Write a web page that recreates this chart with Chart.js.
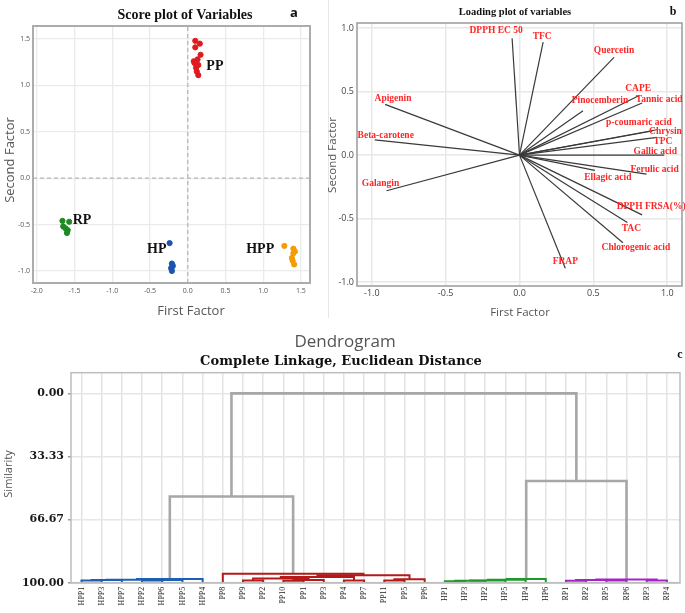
<!DOCTYPE html>
<html>
<head>
<meta charset="utf-8">
<title>PCA score / loading plots and dendrogram</title>
<script src="https://cdn.jsdelivr.net/npm/chart.js@4.4.0/dist/chart.umd.min.js"></script>
<style>
  html, body { margin: 0; padding: 0; background: #fff; }
  #page { position: relative; width: 685px; height: 613px; overflow: hidden; background: #fff; }
  canvas { position: absolute; }
  #scoreChart { left: 0; top: 0; }
  #loadChart { left: 320px; top: 0; }
  #dendroChart { left: 0; top: 322px; }
  .divider { position: absolute; left: 328px; top: 0; width: 1px; height: 318px; background: #e6e6e6; }
</style>
</head>
<body>
<div id="page">
  <div class="divider"></div>
  <canvas id="scoreChart" width="318" height="322"></canvas>
  <canvas id="loadChart" width="365" height="322"></canvas>
  <canvas id="dendroChart" width="685" height="291"></canvas>
</div>
<script>
// ---- (a) score plot ----
const ppX  = [0.10, 0.16, 0.10, 0.17, 0.09, 0.14, 0.11, 0.12, 0.14, 0.08, 0.13];
const ppY  = [1.48, 1.45, 1.41, 1.33, 1.24, 1.22, 1.19, 1.15, 1.11, 1.26, 1.28];
const rpX  = [-1.66, -1.57, -1.65, -1.62, -1.59, -1.60];
const rpY  = [-0.46, -0.47, -0.52, -0.54, -0.56, -0.59];
const hpX  = [-0.24, -0.21, -0.20, -0.22, -0.21, -0.20];
const hpY  = [-0.70, -0.92, -0.95, -0.97, -1.00, -0.94];
const hppX = [1.28, 1.40, 1.42, 1.38, 1.39, 1.41, 1.40];
const hppY = [-0.73, -0.76, -0.79, -0.86, -0.89, -0.93, -0.81];
const scoreTicksX = [-2.0, -1.5, -1.0, -0.5, 0.0, 0.5, 1.0, 1.5];
const scoreTicksY = [-1.0, -0.5, 0.0, 0.5, 1.0, 1.5];

// ---- (b) loading plot ----
const loadNames = ['DPPH EC 50', 'TFC', 'Quercetin', 'CAPE', 'Tannic acid', 'Pinocemberin',
  'p-coumaric acid', 'Chrysin', 'TPC', 'Gallic acid', 'Ferulic acid', 'Ellagic acid',
  'DPPH FRSA(%)', 'TAC', 'Chlorogenic acid', 'FRAP', 'Apigenin', 'Beta-carotene', 'Galangin'];
const loadX = [-0.05, 0.16, 0.64, 0.81, 0.83, 0.43, 0.93, 0.90, 0.93, 0.98, 0.86, 0.51,
  0.83, 0.73, 0.70, 0.31, -0.91, -0.98, -0.90];
const loadY = [0.92, 0.89, 0.77, 0.47, 0.41, 0.35, 0.20, 0.19, 0.14, 0.00, -0.15, -0.12,
  -0.47, -0.53, -0.69, -0.89, 0.40, 0.12, -0.28];
const loadTicks = [-1.0, -0.5, 0.0, 0.5, 1.0];

// ---- (c) dendrogram ----
const dendroLeaves = ['HPP1', 'HPP3', 'HPP7', 'HPP2', 'HPP6', 'HPP5', 'HPP4',
  'PP8', 'PP9', 'PP2', 'PP10', 'PP1', 'PP3', 'PP4', 'PP7', 'PP11', 'PP5', 'PP6',
  'HP1', 'HP3', 'HP2', 'HP5', 'HP4', 'HP6',
  'RP1', 'RP2', 'RP5', 'RP6', 'RP3', 'RP4'];
// [left, right, similarity]; a number refers to an earlier merge row
const dendroMerges = [
  ['HPP1', 'HPP3', 98.9], [0, 'HPP7', 98.6], ['HPP2', 'HPP6', 98.9], [2, 'HPP5', 98.6],
  [1, 3, 98.4], [4, 'HPP4', 98.0],
  ['PP9', 'PP2', 98.8], ['PP10', 'PP1', 99.0], [7, 'PP3', 98.6], [6, 8, 97.8],
  ['PP4', 'PP7', 98.9], [9, 10, 97.0], ['PP11', 'PP5', 98.9], [12, 'PP6', 98.2],
  [11, 13, 96.1], ['PP8', 14, 95.3],
  ['HP1', 'HP3', 99.2], [16, 'HP2', 99.0], [17, 'HP5', 98.8], [18, 'HP4', 98.5], [19, 'HP6', 98.1],
  ['RP1', 'RP2', 99.0], ['RP5', 'RP6', 98.9], [21, 22, 98.6], ['RP3', 'RP4', 98.8], [23, 24, 98.3],
  [5, 15, 54.5], [20, 25, 46.3], [26, 27, 0.0]
];
const simTicks = [0, 33.33, 66.67, 100];

// ---- styling ----
const SERIF = '"Liberation Serif", "Times New Roman", serif';
const SANS = '"Open Sans", "DejaVu Sans", sans-serif';
const groupColors = { HPP: '#1c5fb5', PP: '#b31b1b', HP: '#1f9a2a', RP: '#a524c6' };
const scoreTags = [
  { text: 'PP', x: 0.36, y: 1.20 }, { text: 'RP', x: -1.40, y: -0.46 },
  { text: 'HP', x: -0.41, y: -0.77 }, { text: 'HPP', x: 0.96, y: -0.77 }
];
const loadLabelOffsets = [[-16, -8], [-1, -6], [0, -7], [-1, -7], [17, -3], [17, -10],
  [-18, -7], [13, 1], [6, 4], [-9, -4], [8, -5], [13, 7], [9, -8], [4, 6], [13, 5],
  [0, -7], [8, -6], [11, -4], [-6, -7]];

function drawText(ctx, t) {
  ctx.save();
  ctx.font = t.font;
  ctx.fillStyle = t.color || '#000';
  ctx.textAlign = t.align || 'center';
  ctx.textBaseline = 'middle';
  ctx.translate(t.x, t.y);
  if (t.rotate) ctx.rotate(t.rotate);
  ctx.fillText(t.text, 0, 0);
  ctx.restore();
}

const textLayer = {
  id: 'textLayer',
  afterDraw(chart, args, opts) {
    (opts.items || []).forEach(t => drawText(chart.ctx, t));
  }
};

const frameLayer = {
  id: 'frameLayer',
  afterDatasetsDraw(chart, args, opts) {
    const { left, top, right, bottom } = chart.chartArea;
    const ctx = chart.ctx;
    ctx.save();
    ctx.strokeStyle = opts.color || '#aaa';
    ctx.lineWidth = opts.width || 1.5;
    ctx.strokeRect(left, top, right - left, bottom - top);
    ctx.restore();
  }
};

// labels placed in data units
const dataLabels = {
  id: 'dataLabels',
  afterDatasetsDraw(chart, args, opts) {
    const xs = chart.scales.x, ys = chart.scales.y;
    (opts.items || []).forEach(t => {
      drawText(chart.ctx, {
        text: t.text, font: opts.font, color: opts.color,
        x: xs.getPixelForValue(t.x) + (t.dx || 0),
        y: ys.getPixelForValue(t.y) + (t.dy || 0)
      });
    });
  }
};

function fixTicks(values) {
  return scale => { scale.ticks = values.map(v => ({ value: v })); };
}

function toPoints(xs, ys) {
  return xs.map((x, i) => ({ x: x, y: ys[i] }));
}

// ---------- chart a ----------
const scoreMin = { x: -2.05, y: -1.13 };
const scoreMax = { x: 1.62, y: 1.64 };

new Chart(document.getElementById('scoreChart'), {
  type: 'scatter',
  data: {
    datasets: [
      { label: 'zeroX', data: [{ x: 0, y: scoreMin.y }, { x: 0, y: scoreMax.y }], showLine: true,
        borderColor: '#b8b8b8', borderWidth: 1.3, borderDash: [4, 3], pointRadius: 0 },
      { label: 'zeroY', data: [{ x: scoreMin.x, y: 0 }, { x: scoreMax.x, y: 0 }], showLine: true,
        borderColor: '#b8b8b8', borderWidth: 1.3, borderDash: [4, 3], pointRadius: 0 },
      { label: 'PP', data: toPoints(ppX, ppY), backgroundColor: '#e01b1f', borderColor: '#e01b1f', pointRadius: 2.6 },
      { label: 'RP', data: toPoints(rpX, rpY), backgroundColor: '#1d8a22', borderColor: '#1d8a22', pointRadius: 2.6 },
      { label: 'HP', data: toPoints(hpX, hpY), backgroundColor: '#1a55b0', borderColor: '#1a55b0', pointRadius: 2.6 },
      { label: 'HPP', data: toPoints(hppX, hppY), backgroundColor: '#f59c00', borderColor: '#f59c00', pointRadius: 2.6 }
    ]
  },
  options: {
    responsive: false,
    animation: false,
    events: [],
    layout: { padding: { top: 26, right: 8, left: 0, bottom: 0 } },
    scales: {
      x: {
        type: 'linear', min: scoreMin.x, max: scoreMax.x,
        afterBuildTicks: fixTicks(scoreTicksX),
        afterFit: s => { s.height = 39; },
        grid: { color: '#ebebeb', lineWidth: 1.3, drawTicks: false },
        border: { display: false },
        ticks: { padding: 4, color: '#555', font: { family: SANS, size: 7 }, callback: v => v.toFixed(1) }
      },
      y: {
        type: 'linear', min: scoreMin.y, max: scoreMax.y,
        afterBuildTicks: fixTicks(scoreTicksY),
        afterFit: s => { s.width = 33; },
        grid: { color: '#ebebeb', lineWidth: 1.3, drawTicks: false },
        border: { display: false },
        ticks: { padding: 3, color: '#555', font: { family: SANS, size: 7 }, callback: v => v.toFixed(1) }
      }
    },
    plugins: {
      legend: { display: false },
      tooltip: { enabled: false },
      frameLayer: { color: '#acacac', width: 2 },
      dataLabels: { items: scoreTags, font: 'bold 14px ' + SERIF, color: '#111' },
      textLayer: {
        items: [
          { text: 'Score plot of Variables', x: 185, y: 15, font: 'bold 14px ' + SERIF, color: '#111' },
          { text: 'a', x: 294, y: 13, font: 'bold 13px ' + SANS, color: '#111' },
          { text: 'Second Factor', x: 10, y: 160, font: '13px ' + SANS, color: '#555', rotate: -Math.PI / 2 },
          { text: 'First Factor', x: 191, y: 311, font: '13px ' + SANS, color: '#555' }
        ]
      }
    }
  },
  plugins: [frameLayer, dataLabels, textLayer]
});

// ---------- chart b ----------
const loadDatasets = loadNames.map((name, i) => ({
  label: name,
  data: [{ x: 0, y: 0 }, { x: loadX[i], y: loadY[i] }],
  showLine: true,
  borderColor: '#3a3a3a',
  borderWidth: 1.2,
  pointRadius: 0
}));

new Chart(document.getElementById('loadChart'), {
  type: 'scatter',
  data: { datasets: loadDatasets },
  options: {
    responsive: false,
    animation: false,
    events: [],
    layout: { padding: { top: 23, right: 3, left: 0, bottom: 0 } },
    scales: {
      x: {
        type: 'linear', min: -1.10, max: 1.10,
        afterBuildTicks: fixTicks(loadTicks),
        afterFit: s => { s.height = 36; },
        grid: { color: '#e8e8e8', lineWidth: 1.5, drawTicks: false },
        border: { display: false },
        ticks: { padding: 2, color: '#444', font: { family: SANS, size: 9 }, callback: v => v.toFixed(1) }
      },
      y: {
        type: 'linear', min: -1.03, max: 1.04,
        afterBuildTicks: fixTicks(loadTicks),
        afterFit: s => { s.width = 37; },
        grid: { color: '#e8e8e8', lineWidth: 1.5, drawTicks: false },
        border: { display: false },
        ticks: { padding: 3, color: '#444', font: { family: SANS, size: 9 }, callback: v => v.toFixed(1) }
      }
    },
    plugins: {
      legend: { display: false },
      tooltip: { enabled: false },
      frameLayer: { color: '#9a9a9a', width: 1.5 },
      dataLabels: {
        font: 'bold 9.5px ' + SERIF,
        color: '#ff2626',
        items: loadNames.map((name, i) => ({
          text: name, x: loadX[i], y: loadY[i],
          dx: loadLabelOffsets[i][0], dy: loadLabelOffsets[i][1]
        }))
      },
      textLayer: {
        items: [
          { text: 'Loading plot of variables', x: 195, y: 12, font: 'bold 10.5px ' + SERIF, color: '#111' },
          { text: 'b', x: 353, y: 12, font: 'bold 12px ' + SERIF, color: '#111' },
          { text: 'Second Factor', x: 13, y: 155, font: '11.5px ' + SANS, color: '#555', rotate: -Math.PI / 2 },
          { text: 'First Factor', x: 200, y: 313, font: '11.5px ' + SANS, color: '#555' }
        ]
      }
    }
  },
  plugins: [frameLayer, dataLabels, textLayer]
});

// ---------- chart c ----------
function buildDendrogram() {
  const leafPos = {};
  dendroLeaves.forEach((n, i) => { leafPos[n] = i; });
  const nodes = [];
  const ref = r => typeof r === 'number'
    ? nodes[r]
    : { x: leafPos[r], h: 100, group: r.replace(/\d+$/, '') };
  const sets = [];
  dendroMerges.forEach(([a, b, h]) => {
    const A = ref(a), B = ref(b);
    const group = A.group && A.group === B.group ? A.group : null;
    nodes.push({ x: (A.x + B.x) / 2, h: h, group: group });
    sets.push({
      label: group || 'link',
      data: [{ x: A.x, y: A.h }, { x: A.x, y: h }, { x: B.x, y: h }, { x: B.x, y: B.h }],
      showLine: true,
      borderColor: group ? groupColors[group] : '#a7a7a7',
      borderWidth: group ? 2 : 2.6,
      pointRadius: 0,
      tension: 0
    });
  });
  return sets;
}

new Chart(document.getElementById('dendroChart'), {
  type: 'scatter',
  data: { datasets: buildDendrogram() },
  options: {
    responsive: false,
    animation: false,
    events: [],
    layout: { padding: { top: 50.7, right: 5, left: 0, bottom: 0 } },
    scales: {
      x: {
        type: 'linear', min: -0.52, max: 29.65,
        afterBuildTicks: fixTicks(dendroLeaves.map((n, i) => i)),
        afterFit: s => { s.height = 30.3; },
        grid: { color: '#e3e3e3', lineWidth: 1.5, drawTicks: false },
        border: { display: true, color: '#b5b5b5', width: 1.5 },
        ticks: {
          autoSkip: false, minRotation: 90, maxRotation: 90, padding: 4,
          color: '#222', font: { family: SERIF, size: 8 },
          callback: v => dendroLeaves[v]
        }
      },
      y: {
        type: 'linear', reverse: true, min: -10.9, max: 100,
        afterBuildTicks: fixTicks(simTicks),
        afterFit: s => { s.width = 71; },
        grid: { color: '#e6e6e6', lineWidth: 1.5, tickLength: 3, tickColor: '#999' },
        border: { display: false },
        ticks: {
          padding: 4, color: '#1a1a1a',
          font: { family: '"DejaVu Serif", serif', size: 11, weight: 'bold' },
          callback: v => v.toFixed(2)
        }
      }
    },
    plugins: {
      legend: { display: false },
      tooltip: { enabled: false },
      frameLayer: { color: '#bdbdbd', width: 1.5 },
      textLayer: {
        items: [
          { text: 'Dendrogram', x: 345, y: 20, font: '17px ' + SANS, color: '#555' },
          { text: 'Complete Linkage, Euclidean Distance', x: 341, y: 40, font: 'bold 13px "DejaVu Serif", serif', color: '#111' },
          { text: 'c', x: 680, y: 33, font: 'bold 12px ' + SERIF, color: '#111' },
          { text: 'Similarity', x: 9, y: 152, font: '11px ' + SANS, color: '#555', rotate: -Math.PI / 2 }
        ]
      }
    }
  },
  plugins: [frameLayer, textLayer]
});
</script>
</body>
</html>
